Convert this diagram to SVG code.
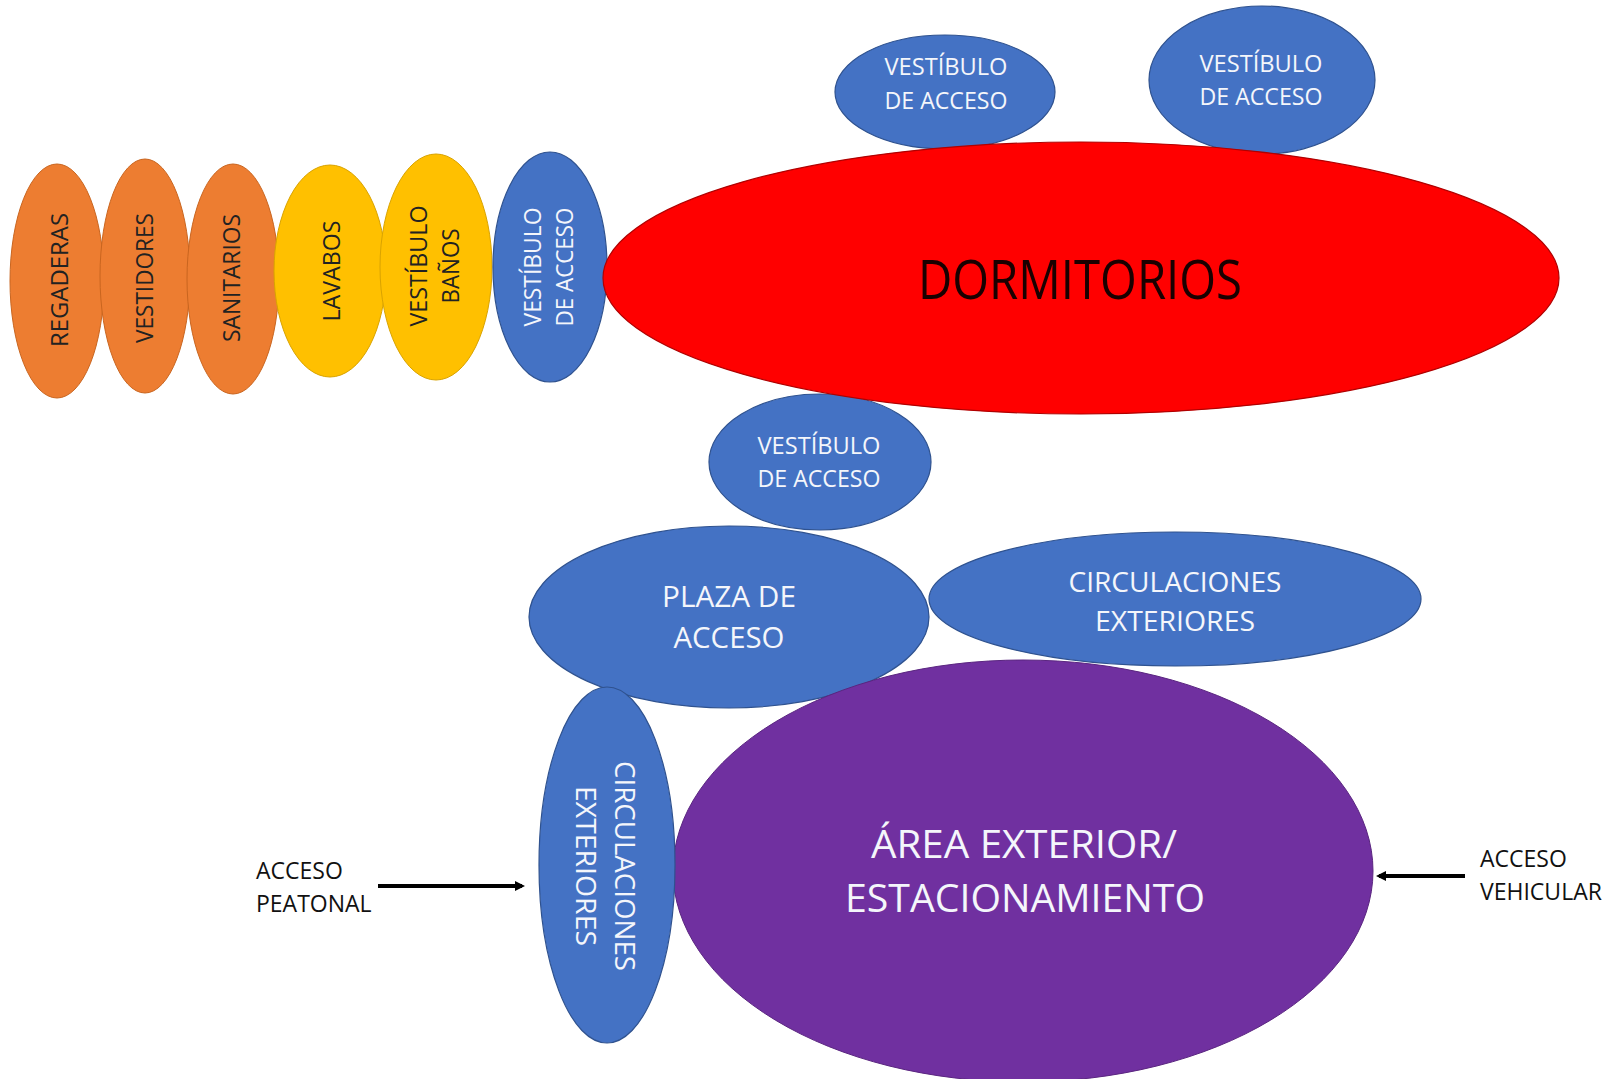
<svg xmlns="http://www.w3.org/2000/svg" width="1612" height="1079" viewBox="0 0 1612 1079">
<defs>
<style>
.or{fill:#ED7D31;stroke:#C9651F;stroke-width:1}
.ye{fill:#FFC000;stroke:#D9A300;stroke-width:1}
.bl{fill:#4472C4;stroke:#2F528F;stroke-width:1.2}
.rd{fill:#FF0000;stroke:#B00000;stroke-width:1.2}
.pu{fill:#7030A0;stroke:#5A2580;stroke-width:1}
text{font-family:"Open Sans","Liberation Sans",sans-serif;text-anchor:middle}
.dk{fill:#222}
.wt{fill:#F4F6FB}
.lbl{fill:#111;font-size:23px;text-anchor:start}
.arr{stroke:#000;stroke-width:4;fill:none}
</style>
<marker id="ah" markerWidth="10" markerHeight="10" refX="7" refY="5" orient="auto" markerUnits="userSpaceOnUse">
<path d="M0,0 L10,5 L0,10 Z" fill="#000"/>
</marker>
</defs>
<rect width="1612" height="1079" fill="#fff"/>

<g id="regaderas">
<ellipse class="or" cx="57" cy="281" rx="47" ry="117"/>
<text class="dk" font-size="24" transform="translate(59,280) rotate(-90)" y="8.5" textLength="134" lengthAdjust="spacingAndGlyphs">REGADERAS</text>
</g>
<g id="vestidores">
<ellipse class="or" cx="145" cy="276" rx="45" ry="117"/>
<text class="dk" font-size="24" transform="translate(144,278) rotate(-90)" y="8.5" textLength="130" lengthAdjust="spacingAndGlyphs">VESTIDORES</text>
</g>
<g id="sanitarios">
<ellipse class="or" cx="233" cy="279" rx="46" ry="115"/>
<text class="dk" font-size="24" transform="translate(231,278) rotate(-90)" y="8.5" textLength="128" lengthAdjust="spacingAndGlyphs">SANITARIOS</text>
</g>
<g id="lavabos">
<ellipse class="ye" cx="330" cy="271" rx="56" ry="106"/>
<text class="dk" font-size="24" transform="translate(331,271) rotate(-90)" y="8.5" textLength="101" lengthAdjust="spacingAndGlyphs">LAVABOS</text>
</g>
<g id="vestibulo-banos">
<ellipse class="ye" cx="436" cy="267" rx="56" ry="113"/>
<text class="dk" font-size="24" transform="translate(434,266) rotate(-90)" textLength="121" lengthAdjust="spacingAndGlyphs" y="-7.5">VESTÍBULO</text>
<text class="dk" font-size="24" transform="translate(434,266) rotate(-90)" textLength="75" lengthAdjust="spacingAndGlyphs" y="24.5">BAÑOS</text>
</g>
<g id="vestibulo-acceso-izq">
<ellipse class="bl" cx="550" cy="267" rx="57" ry="115"/>
<text class="wt" font-size="23" transform="translate(549,267) rotate(-90)" textLength="119" lengthAdjust="spacingAndGlyphs" y="-8">VESTÍBULO</text>
<text class="wt" font-size="23" transform="translate(549,267) rotate(-90)" textLength="119" lengthAdjust="spacingAndGlyphs" y="24">DE ACCESO</text>
</g>

<g id="vestibulo-acceso-1">
<ellipse class="bl" cx="945" cy="92" rx="110" ry="57"/>
<text class="wt" font-size="23" x="946" y="75" textLength="123" lengthAdjust="spacingAndGlyphs">VESTÍBULO</text>
<text class="wt" font-size="23" x="946" y="109" textLength="123" lengthAdjust="spacingAndGlyphs">DE ACCESO</text>
</g>
<g id="vestibulo-acceso-2">
<ellipse class="bl" cx="1262" cy="80" rx="113" ry="74"/>
<text class="wt" font-size="23" x="1261" y="72" textLength="123" lengthAdjust="spacingAndGlyphs">VESTÍBULO</text>
<text class="wt" font-size="23" x="1261" y="105" textLength="123" lengthAdjust="spacingAndGlyphs">DE ACCESO</text>
</g>
<g id="vestibulo-acceso-centro">
<ellipse class="bl" cx="820" cy="462" rx="111" ry="68"/>
<text class="wt" font-size="23" x="819" y="454" textLength="123" lengthAdjust="spacingAndGlyphs">VESTÍBULO</text>
<text class="wt" font-size="23" x="819" y="487" textLength="123" lengthAdjust="spacingAndGlyphs">DE ACCESO</text>
</g>

<g id="dormitorios">
<ellipse class="rd" cx="1081" cy="278" rx="478" ry="136"/>
<text fill="#1a0000" font-size="54" x="1080" y="299" textLength="324" lengthAdjust="spacingAndGlyphs">DORMITORIOS</text>
</g>

<g id="plaza-acceso">
<ellipse class="bl" cx="729" cy="617" rx="200" ry="91"/>
<text class="wt" font-size="29" x="729" y="607" textLength="134" lengthAdjust="spacingAndGlyphs">PLAZA DE</text>
<text class="wt" font-size="29" x="729" y="648" textLength="111" lengthAdjust="spacingAndGlyphs">ACCESO</text>
</g>
<g id="circulaciones-ext-h">
<ellipse class="bl" cx="1175" cy="599" rx="246" ry="67"/>
<text class="wt" font-size="28" x="1175" y="592" textLength="213" lengthAdjust="spacingAndGlyphs">CIRCULACIONES</text>
<text class="wt" font-size="28" x="1175" y="631" textLength="160" lengthAdjust="spacingAndGlyphs">EXTERIORES</text>
</g>
<g id="area-exterior">
<ellipse class="pu" cx="1023" cy="871" rx="350" ry="211"/>
<text class="wt" font-size="39" x="1024" y="858" textLength="306" lengthAdjust="spacingAndGlyphs">ÁREA EXTERIOR/</text>
<text class="wt" font-size="39" x="1025" y="912" textLength="360" lengthAdjust="spacingAndGlyphs">ESTACIONAMIENTO</text>
</g>
<g id="circulaciones-ext-v">
<ellipse class="bl" cx="607" cy="865" rx="68" ry="178"/>
<text class="wt" font-size="28" transform="translate(606,866) rotate(90)" textLength="210" lengthAdjust="spacingAndGlyphs" y="-9">CIRCULACIONES</text>
<text class="wt" font-size="28" transform="translate(606,866) rotate(90)" textLength="160" lengthAdjust="spacingAndGlyphs" y="30">EXTERIORES</text>
</g>

<g id="acceso-peatonal">
<text class="lbl" x="256" y="879">ACCESO</text>
<text class="lbl" x="256" y="912">PEATONAL</text>
</g>
<g id="acceso-vehicular">
<text class="lbl" x="1480" y="867">ACCESO</text>
<text class="lbl" x="1480" y="900">VEHICULAR</text>
</g>

<g id="connectors">
<line class="arr" x1="378" y1="886" x2="522" y2="886" marker-end="url(#ah)"/>
<line class="arr" x1="1465" y1="876" x2="1379" y2="876" marker-end="url(#ah)"/>
</g>
</svg>
